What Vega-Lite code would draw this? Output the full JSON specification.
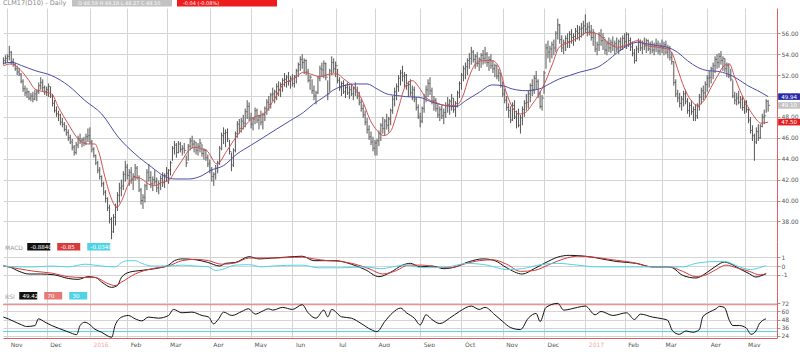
{
"$schema":"https://vega.github.io/schema/vega-lite/v6.json",
"background":"white",
"padding":{"left":1,"top":0,"right":0,"bottom":0},
"config":{"view":{"stroke":null},"axis":{"labelFont":"DejaVu Sans","labelFontSize":6,"labelColor":"#555","gridColor":"#d4d4d4","gridWidth":1,"title":null,"ticks":false,"domain":false,"labelOverlap":false,"labelFlush":false,"labelBound":false,"tickCount":100},"legend":{"labelFont":"DejaVu Sans","titleFont":"DejaVu Sans","gridAlign":"none"}},
"datasets":{
"ohlc":[
{"i":-2,"l":53.0,"h":53.7,"c":53.4},{"i":-1,"l":53.1,"h":53.9,"c":53.6},{"i":0,"l":53.2,"h":54.0,"c":53.8},{"i":1,"l":53.4,"h":54.8,"c":54.2},{"i":2,"l":53.0,"h":54.3,"c":53.3},{"i":3,"l":52.8,"h":53.6,"c":53.0},{"i":4,"l":52.4,"h":53.2,"c":52.6},{"i":5,"l":52.0,"h":52.9,"c":52.3},{"i":6,"l":51.9,"h":52.7,"c":52.1},{"i":7,"l":51.2,"h":52.2,"c":51.4},{"i":8,"l":50.4,"h":51.6,"c":50.7},{"i":9,"l":50.0,"h":51.0,"c":50.3},{"i":10,"l":49.8,"h":50.8,"c":50.4},{"i":11,"l":49.6,"h":50.5,"c":49.8},{"i":12,"l":49.5,"h":50.3,"c":50.0},{"i":13,"l":49.4,"h":50.4,"c":49.7},{"i":14,"l":49.6,"h":50.6,"c":50.2},{"i":15,"l":49.5,"h":50.6,"c":50.4},{"i":16,"l":50.2,"h":51.3,"c":51.0},{"i":17,"l":50.6,"h":51.8,"c":51.3},{"i":18,"l":50.4,"h":51.6,"c":50.8},{"i":19,"l":50.1,"h":51.0,"c":50.4},
{"i":20,"l":50.0,"h":50.9,"c":50.6},{"i":21,"l":49.9,"h":51.2,"c":50.9},{"i":22,"l":49.8,"h":50.9,"c":50.0},{"i":23,"l":49.0,"h":50.2,"c":49.3},{"i":24,"l":48.4,"h":49.6,"c":48.6},{"i":25,"l":48.0,"h":49.0,"c":48.3},{"i":26,"l":47.6,"h":48.6,"c":48.2},{"i":27,"l":47.2,"h":48.3,"c":47.5},{"i":28,"l":47.0,"h":47.9,"c":47.3},{"i":29,"l":46.6,"h":47.5,"c":46.8},{"i":30,"l":46.2,"h":47.2,"c":46.5},{"i":31,"l":45.7,"h":46.8,"c":46.0},{"i":32,"l":45.4,"h":46.3,"c":45.6},{"i":33,"l":44.8,"h":45.9,"c":45.1},{"i":34,"l":44.3,"h":45.3,"c":44.6},{"i":35,"l":44.4,"h":45.6,"c":45.3},{"i":36,"l":45.0,"h":46.2,"c":45.9},{"i":37,"l":45.4,"h":46.4,"c":45.7},{"i":38,"l":45.1,"h":46.0,"c":45.8},{"i":39,"l":45.2,"h":46.1,"c":45.5},
{"i":40,"l":45.3,"h":46.4,"c":46.1},{"i":41,"l":45.6,"h":46.9,"c":46.2},{"i":42,"l":45.4,"h":47.0,"c":45.6},{"i":43,"l":44.6,"h":45.8,"c":44.9},{"i":44,"l":44.1,"h":45.1,"c":44.3},{"i":45,"l":43.4,"h":44.4,"c":43.6},{"i":46,"l":42.6,"h":43.8,"c":42.9},{"i":47,"l":42.0,"h":43.2,"c":42.3},{"i":48,"l":41.3,"h":42.4,"c":41.6},{"i":49,"l":40.5,"h":41.8,"c":40.8},{"i":50,"l":39.8,"h":41.0,"c":40.2},{"i":51,"l":39.0,"h":40.3,"c":39.3},{"i":52,"l":37.8,"h":39.6,"c":38.2},{"i":53,"l":36.3,"h":38.4,"c":37.0},{"i":54,"l":36.9,"h":38.7,"c":38.4},{"i":55,"l":37.6,"h":39.7,"c":39.4},{"i":56,"l":39.0,"h":40.8,"c":40.5},{"i":57,"l":39.8,"h":41.7,"c":41.2},{"i":58,"l":40.4,"h":42.0,"c":41.4},{"i":59,"l":41.0,"h":42.8,"c":42.5},
{"i":60,"l":41.8,"h":43.8,"c":43.2},{"i":61,"l":42.0,"h":43.5,"c":42.4},{"i":62,"l":41.4,"h":43.0,"c":42.7},{"i":63,"l":41.6,"h":43.2,"c":42.0},{"i":64,"l":41.0,"h":42.6,"c":42.3},{"i":65,"l":41.9,"h":43.5,"c":43.1},{"i":66,"l":42.0,"h":43.3,"c":42.2},{"i":67,"l":40.8,"h":42.4,"c":41.0},{"i":68,"l":39.6,"h":41.2,"c":40.0},{"i":69,"l":39.2,"h":40.6,"c":40.3},{"i":70,"l":39.8,"h":41.6,"c":41.4},{"i":71,"l":41.0,"h":43.0,"c":42.7},{"i":72,"l":41.8,"h":43.5,"c":42.2},{"i":73,"l":41.2,"h":42.8,"c":41.6},{"i":74,"l":40.9,"h":42.3,"c":42.0},{"i":75,"l":41.5,"h":42.9,"c":41.8},{"i":76,"l":40.8,"h":42.2,"c":41.2},{"i":77,"l":40.6,"h":41.9,"c":41.6},{"i":78,"l":41.0,"h":42.4,"c":42.1},{"i":79,"l":41.3,"h":42.7,"c":41.7},
{"i":80,"l":41.2,"h":42.6,"c":42.4},{"i":81,"l":41.8,"h":43.2,"c":42.6},{"i":82,"l":41.6,"h":43.0,"c":42.9},{"i":83,"l":42.4,"h":43.8,"c":43.6},{"i":84,"l":43.8,"h":45.2,"c":45.0},{"i":85,"l":44.4,"h":45.7,"c":45.3},{"i":86,"l":44.1,"h":45.5,"c":44.6},{"i":87,"l":44.5,"h":45.7,"c":45.4},{"i":88,"l":44.6,"h":45.6,"c":44.9},{"i":89,"l":44.3,"h":45.3,"c":45.0},{"i":90,"l":44.5,"h":45.5,"c":44.8},{"i":91,"l":43.2,"h":44.3,"c":43.6},{"i":92,"l":43.8,"h":45.4,"c":45.2},{"i":93,"l":44.8,"h":46.0,"c":45.7},{"i":94,"l":45.0,"h":46.2,"c":45.4},{"i":95,"l":44.6,"h":45.8,"c":45.6},{"i":96,"l":44.4,"h":45.6,"c":44.8},{"i":97,"l":44.3,"h":45.5,"c":45.2},{"i":98,"l":44.6,"h":45.9,"c":45.5},{"i":99,"l":44.2,"h":45.4,"c":44.5},
{"i":100,"l":43.9,"h":45.0,"c":44.8},{"i":101,"l":43.8,"h":44.9,"c":44.1},{"i":102,"l":43.2,"h":44.4,"c":43.5},{"i":103,"l":42.6,"h":43.9,"c":42.9},{"i":104,"l":41.8,"h":43.2,"c":42.3},{"i":105,"l":41.4,"h":42.7,"c":42.5},{"i":106,"l":42.0,"h":43.4,"c":43.1},{"i":107,"l":42.6,"h":43.8,"c":43.6},{"i":108,"l":43.4,"h":45.2,"c":45.0},{"i":109,"l":44.8,"h":46.5,"c":46.2},{"i":110,"l":45.4,"h":47.0,"c":46.4},{"i":111,"l":45.1,"h":46.8,"c":46.5},{"i":112,"l":45.6,"h":46.9,"c":45.9},{"i":113,"l":44.4,"h":45.8,"c":44.7},{"i":114,"l":42.8,"h":44.6,"c":43.4},{"i":115,"l":43.2,"h":45.0,"c":44.8},{"i":116,"l":44.6,"h":46.6,"c":46.4},{"i":117,"l":46.0,"h":47.6,"c":47.3},{"i":118,"l":46.4,"h":47.8,"c":46.9},{"i":119,"l":46.5,"h":47.9,"c":47.6},
{"i":120,"l":46.8,"h":48.2,"c":47.4},{"i":121,"l":47.0,"h":48.8,"c":48.5},{"i":122,"l":47.8,"h":49.6,"c":49.0},{"i":123,"l":47.6,"h":49.4,"c":47.9},{"i":124,"l":46.9,"h":48.4,"c":47.3},{"i":125,"l":46.7,"h":48.0,"c":47.8},{"i":126,"l":47.3,"h":48.9,"c":48.6},{"i":127,"l":47.4,"h":48.8,"c":47.7},{"i":128,"l":46.8,"h":48.2,"c":48.0},{"i":129,"l":47.2,"h":48.6,"c":47.5},{"i":130,"l":46.8,"h":48.4,"c":48.2},{"i":131,"l":47.6,"h":49.0,"c":48.8},{"i":132,"l":48.2,"h":49.7,"c":49.4},{"i":133,"l":48.6,"h":50.0,"c":49.2},{"i":134,"l":48.8,"h":50.3,"c":50.1},{"i":135,"l":49.5,"h":50.8,"c":50.2},{"i":136,"l":49.3,"h":50.6,"c":50.4},{"i":137,"l":49.6,"h":51.2,"c":50.9},{"i":138,"l":50.0,"h":51.4,"c":50.6},{"i":139,"l":49.9,"h":51.3,"c":51.1},
{"i":140,"l":50.4,"h":51.7,"c":51.5},{"i":141,"l":50.9,"h":52.2,"c":51.6},{"i":142,"l":50.8,"h":52.0,"c":51.8},{"i":143,"l":51.0,"h":52.3,"c":51.4},{"i":144,"l":50.7,"h":51.9,"c":51.7},{"i":145,"l":50.9,"h":52.1,"c":51.2},{"i":146,"l":50.8,"h":52.0,"c":51.9},{"i":147,"l":51.2,"h":52.6,"c":52.4},{"i":148,"l":51.8,"h":53.2,"c":53.0},{"i":149,"l":52.4,"h":53.8,"c":53.5},{"i":150,"l":52.6,"h":54.0,"c":53.2},{"i":151,"l":52.1,"h":53.6,"c":53.4},{"i":152,"l":52.0,"h":53.5,"c":52.3},{"i":153,"l":51.3,"h":52.6,"c":51.5},{"i":154,"l":50.6,"h":52.0,"c":51.8},{"i":155,"l":50.2,"h":51.6,"c":50.5},{"i":156,"l":49.6,"h":51.0,"c":50.0},{"i":157,"l":49.2,"h":50.5,"c":50.3},{"i":158,"l":50.2,"h":51.9,"c":51.7},{"i":159,"l":51.4,"h":52.9,"c":52.6},
{"i":160,"l":51.8,"h":53.2,"c":52.5},{"i":161,"l":51.7,"h":53.4,"c":53.1},{"i":162,"l":51.5,"h":53.2,"c":51.8},{"i":163,"l":49.6,"h":51.5,"c":50.2},{"i":164,"l":50.4,"h":52.6,"c":52.4},{"i":165,"l":52.0,"h":53.8,"c":53.2},{"i":166,"l":52.2,"h":53.6,"c":52.6},{"i":167,"l":51.8,"h":53.3,"c":52.9},{"i":168,"l":51.2,"h":52.6,"c":51.5},{"i":169,"l":50.5,"h":51.8,"c":50.8},{"i":170,"l":50.0,"h":51.4,"c":51.2},{"i":171,"l":50.2,"h":51.5,"c":50.4},{"i":172,"l":49.8,"h":51.1,"c":50.8},{"i":173,"l":50.1,"h":51.3,"c":50.3},{"i":174,"l":49.7,"h":51.0,"c":50.6},{"i":175,"l":50.0,"h":51.2,"c":50.2},{"i":176,"l":49.6,"h":50.9,"c":50.7},{"i":177,"l":50.0,"h":51.3,"c":50.4},{"i":178,"l":49.7,"h":50.9,"c":50.0},{"i":179,"l":49.1,"h":50.4,"c":49.4},
{"i":180,"l":48.5,"h":49.7,"c":48.8},{"i":181,"l":47.9,"h":49.2,"c":48.2},{"i":182,"l":47.2,"h":48.6,"c":47.5},{"i":183,"l":46.4,"h":47.9,"c":46.8},{"i":184,"l":45.8,"h":47.2,"c":46.1},{"i":185,"l":45.3,"h":46.6,"c":45.6},{"i":186,"l":44.7,"h":46.1,"c":45.0},{"i":187,"l":44.3,"h":45.8,"c":45.5},{"i":188,"l":44.3,"h":45.9,"c":45.7},{"i":189,"l":45.2,"h":46.7,"c":46.4},{"i":190,"l":45.7,"h":47.4,"c":47.2},{"i":191,"l":46.4,"h":48.0,"c":46.9},{"i":192,"l":46.2,"h":47.8,"c":47.6},{"i":193,"l":46.8,"h":48.3,"c":47.2},{"i":194,"l":46.5,"h":48.0,"c":47.8},{"i":195,"l":47.2,"h":48.8,"c":48.6},{"i":196,"l":48.3,"h":50.0,"c":49.7},{"i":197,"l":49.0,"h":50.8,"c":50.4},{"i":198,"l":49.6,"h":51.2,"c":50.9},{"i":199,"l":50.4,"h":52.0,"c":51.7},
{"i":200,"l":51.0,"h":52.5,"c":52.2},{"i":201,"l":51.4,"h":52.9,"c":51.9},{"i":202,"l":50.8,"h":52.3,"c":52.0},{"i":203,"l":50.6,"h":52.1,"c":51.0},{"i":204,"l":49.9,"h":51.4,"c":51.1},{"i":205,"l":50.0,"h":51.6,"c":50.3},{"i":206,"l":49.6,"h":51.0,"c":50.6},{"i":207,"l":49.4,"h":50.9,"c":49.7},{"i":208,"l":48.6,"h":49.9,"c":48.9},{"i":209,"l":47.8,"h":49.2,"c":48.0},{"i":210,"l":47.0,"h":48.4,"c":47.6},{"i":211,"l":47.4,"h":49.0,"c":48.8},{"i":212,"l":48.4,"h":50.2,"c":49.9},{"i":213,"l":49.4,"h":51.0,"c":50.6},{"i":214,"l":49.9,"h":51.6,"c":51.2},{"i":215,"l":50.1,"h":51.8,"c":50.5},{"i":216,"l":49.2,"h":50.8,"c":49.5},{"i":217,"l":48.6,"h":50.0,"c":49.6},{"i":218,"l":48.5,"h":49.8,"c":48.8},{"i":219,"l":47.9,"h":49.2,"c":48.2},
{"i":220,"l":47.6,"h":49.0,"c":48.7},{"i":221,"l":47.8,"h":49.1,"c":48.1},{"i":222,"l":47.3,"h":48.8,"c":48.4},{"i":223,"l":47.9,"h":49.4,"c":49.1},{"i":224,"l":48.4,"h":49.9,"c":49.2},{"i":225,"l":48.2,"h":49.7,"c":49.5},{"i":226,"l":48.6,"h":50.2,"c":49.8},{"i":227,"l":48.4,"h":49.8,"c":48.7},{"i":228,"l":48.0,"h":49.5,"c":49.3},{"i":229,"l":48.9,"h":50.5,"c":50.3},{"i":230,"l":49.8,"h":51.4,"c":51.2},{"i":231,"l":50.6,"h":52.2,"c":52.0},{"i":232,"l":51.4,"h":52.9,"c":52.6},{"i":233,"l":51.6,"h":53.2,"c":52.8},{"i":234,"l":52.0,"h":53.6,"c":53.4},{"i":235,"l":52.6,"h":54.1,"c":53.6},{"i":236,"l":53.0,"h":54.7,"c":54.2},{"i":237,"l":53.2,"h":54.4,"c":53.5},{"i":238,"l":52.6,"h":54.0,"c":53.8},{"i":239,"l":52.8,"h":54.2,"c":53.1},
{"i":240,"l":52.4,"h":53.7,"c":53.5},{"i":241,"l":52.7,"h":54.1,"c":53.9},{"i":242,"l":53.0,"h":54.4,"c":53.6},{"i":243,"l":53.1,"h":54.7,"c":54.0},{"i":244,"l":52.8,"h":54.2,"c":53.2},{"i":245,"l":52.4,"h":53.8,"c":53.5},{"i":246,"l":52.6,"h":54.0,"c":52.9},{"i":247,"l":52.2,"h":53.4,"c":52.6},{"i":248,"l":51.8,"h":53.1,"c":52.9},{"i":249,"l":51.6,"h":53.0,"c":51.9},{"i":250,"l":51.4,"h":52.6,"c":52.2},{"i":251,"l":50.8,"h":52.2,"c":51.0},{"i":252,"l":49.9,"h":51.4,"c":50.2},{"i":253,"l":49.3,"h":50.7,"c":49.6},{"i":254,"l":48.6,"h":50.0,"c":48.9},{"i":255,"l":47.9,"h":49.3,"c":48.6},{"i":256,"l":47.4,"h":49.0,"c":47.7},{"i":257,"l":47.6,"h":49.4,"c":49.1},{"i":258,"l":47.8,"h":49.6,"c":48.0},{"i":259,"l":46.9,"h":48.6,"c":48.3},
{"i":260,"l":47.0,"h":48.8,"c":47.2},{"i":261,"l":46.4,"h":48.2,"c":47.9},{"i":262,"l":47.2,"h":49.0,"c":48.7},{"i":263,"l":48.0,"h":49.6,"c":49.3},{"i":264,"l":48.6,"h":50.2,"c":49.4},{"i":265,"l":48.8,"h":50.5,"c":50.2},{"i":266,"l":49.4,"h":51.2,"c":51.0},{"i":267,"l":50.0,"h":51.6,"c":50.6},{"i":268,"l":50.2,"h":52.0,"c":51.7},{"i":269,"l":50.6,"h":52.4,"c":51.4},{"i":270,"l":49.8,"h":51.6,"c":50.2},{"i":271,"l":48.8,"h":50.5,"c":49.0},{"i":272,"l":48.6,"h":50.1,"c":49.8},{"i":273,"l":50.2,"h":52.4,"c":52.2},{"i":274,"l":52.6,"h":55.0,"c":54.6},{"i":275,"l":53.6,"h":55.3,"c":54.2},{"i":276,"l":53.2,"h":54.8,"c":54.5},{"i":277,"l":53.6,"h":55.2,"c":54.9},{"i":278,"l":53.9,"h":55.4,"c":54.6},{"i":279,"l":54.2,"h":56.2,"c":56.0},
{"i":280,"l":55.4,"h":57.4,"c":56.8},{"i":281,"l":55.0,"h":56.9,"c":55.4},{"i":282,"l":54.2,"h":55.8,"c":54.6},{"i":283,"l":54.0,"h":55.4,"c":55.1},{"i":284,"l":54.3,"h":55.8,"c":55.5},{"i":285,"l":54.6,"h":56.0,"c":55.2},{"i":286,"l":54.6,"h":56.2,"c":55.9},{"i":287,"l":55.0,"h":56.4,"c":55.6},{"i":288,"l":54.8,"h":56.0,"c":55.7},{"i":289,"l":55.2,"h":56.5,"c":56.2},{"i":290,"l":55.4,"h":56.8,"c":56.0},{"i":291,"l":55.3,"h":56.7,"c":56.4},{"i":292,"l":55.6,"h":57.0,"c":56.5},{"i":293,"l":55.8,"h":57.2,"c":56.7},{"i":294,"l":56.0,"h":57.8,"c":56.4},{"i":295,"l":55.7,"h":57.0,"c":56.6},{"i":296,"l":55.8,"h":57.1,"c":56.2},{"i":297,"l":55.3,"h":56.8,"c":55.6},{"i":298,"l":54.8,"h":56.4,"c":56.1},{"i":299,"l":54.2,"h":56.0,"c":54.5},
{"i":300,"l":53.9,"h":55.2,"c":54.9},{"i":301,"l":54.3,"h":56.1,"c":55.8},{"i":302,"l":54.8,"h":56.4,"c":55.3},{"i":303,"l":54.4,"h":56.0,"c":55.6},{"i":304,"l":54.0,"h":55.5,"c":54.4},{"i":305,"l":53.9,"h":55.3,"c":55.0},{"i":306,"l":54.2,"h":55.6,"c":54.6},{"i":307,"l":54.1,"h":55.4,"c":55.1},{"i":308,"l":54.3,"h":55.7,"c":54.8},{"i":309,"l":54.0,"h":55.3,"c":55.0},{"i":310,"l":54.2,"h":55.6,"c":54.5},{"i":311,"l":54.0,"h":55.4,"c":55.2},{"i":312,"l":54.3,"h":55.6,"c":54.7},{"i":313,"l":54.4,"h":55.8,"c":55.5},{"i":314,"l":54.6,"h":56.0,"c":55.2},{"i":315,"l":54.5,"h":56.1,"c":55.9},{"i":316,"l":54.7,"h":56.0,"c":55.3},{"i":317,"l":54.3,"h":55.6,"c":54.7},{"i":318,"l":53.8,"h":55.2,"c":54.1},{"i":319,"l":53.1,"h":54.5,"c":53.4},
{"i":320,"l":53.3,"h":54.8,"c":54.5},{"i":321,"l":54.1,"h":55.5,"c":55.2},{"i":322,"l":54.3,"h":55.4,"c":54.6},{"i":323,"l":54.0,"h":55.3,"c":55.0},{"i":324,"l":54.4,"h":55.6,"c":54.8},{"i":325,"l":54.1,"h":55.5,"c":55.3},{"i":326,"l":54.3,"h":55.4,"c":54.5},{"i":327,"l":54.0,"h":55.2,"c":54.9},{"i":328,"l":54.1,"h":55.3,"c":54.4},{"i":329,"l":53.9,"h":55.1,"c":54.8},{"i":330,"l":54.2,"h":55.5,"c":55.0},{"i":331,"l":54.0,"h":55.3,"c":54.3},{"i":332,"l":53.9,"h":55.1,"c":54.8},{"i":333,"l":54.1,"h":55.4,"c":54.6},{"i":334,"l":53.9,"h":55.2,"c":54.9},{"i":335,"l":54.0,"h":55.3,"c":54.2},{"i":336,"l":53.6,"h":54.9,"c":54.5},{"i":337,"l":53.4,"h":54.8,"c":53.7},{"i":338,"l":53.0,"h":54.2,"c":53.3},{"i":339,"l":51.0,"h":53.3,"c":51.3},
{"i":340,"l":49.9,"h":51.6,"c":50.2},{"i":341,"l":49.4,"h":50.6,"c":49.8},{"i":342,"l":48.9,"h":50.3,"c":49.3},{"i":343,"l":48.6,"h":50.0,"c":49.7},{"i":344,"l":49.0,"h":50.5,"c":50.2},{"i":345,"l":49.2,"h":50.6,"c":49.5},{"i":346,"l":48.3,"h":49.8,"c":48.6},{"i":347,"l":48.0,"h":49.4,"c":49.1},{"i":348,"l":48.2,"h":49.6,"c":48.5},{"i":349,"l":47.6,"h":49.0,"c":48.7},{"i":350,"l":47.6,"h":49.2,"c":48.1},{"i":351,"l":47.8,"h":49.3,"c":49.0},{"i":352,"l":48.6,"h":50.2,"c":49.9},{"i":353,"l":49.2,"h":50.8,"c":50.5},{"i":354,"l":49.6,"h":51.0,"c":50.3},{"i":355,"l":49.8,"h":51.4,"c":51.1},{"i":356,"l":50.4,"h":52.0,"c":51.7},{"i":357,"l":50.8,"h":52.4,"c":51.8},{"i":358,"l":51.2,"h":52.8,"c":52.6},{"i":359,"l":51.6,"h":53.2,"c":52.9},
{"i":360,"l":52.2,"h":53.8,"c":53.5},{"i":361,"l":52.6,"h":54.0,"c":53.2},{"i":362,"l":52.7,"h":54.1,"c":53.8},{"i":363,"l":53.0,"h":54.3,"c":53.4},{"i":364,"l":52.4,"h":53.8,"c":53.6},{"i":365,"l":52.3,"h":53.6,"c":52.6},{"i":366,"l":51.8,"h":53.2,"c":52.9},{"i":367,"l":51.7,"h":53.1,"c":51.9},{"i":368,"l":51.4,"h":52.6,"c":51.6},{"i":369,"l":49.8,"h":51.5,"c":50.0},{"i":370,"l":49.2,"h":50.4,"c":49.6},{"i":371,"l":49.1,"h":50.3,"c":49.8},{"i":372,"l":49.2,"h":50.5,"c":49.4},{"i":373,"l":48.8,"h":50.0,"c":49.7},{"i":374,"l":48.6,"h":50.0,"c":48.9},{"i":375,"l":48.3,"h":49.6,"c":49.2},{"i":376,"l":48.4,"h":49.6,"c":48.7},{"i":377,"l":47.4,"h":48.9,"c":47.7},{"i":378,"l":46.4,"h":48.0,"c":46.7},{"i":379,"l":45.7,"h":47.2,"c":46.2},
{"i":380,"l":43.8,"h":46.4,"c":45.6},{"i":381,"l":45.4,"h":47.0,"c":46.6},{"i":382,"l":45.7,"h":47.3,"c":46.0},{"i":383,"l":45.9,"h":47.3,"c":47.1},{"i":384,"l":47.0,"h":48.3,"c":48.0},{"i":385,"l":47.3,"h":48.7,"c":48.1},{"i":386,"l":48.4,"h":49.7,"c":49.5},{"i":387,"l":48.5,"h":49.6,"c":49.1}
],
"ma10":[{"i":-2,"v":52.9},{"i":2,"v":53.07},{"i":7,"v":52.43},{"i":11,"v":51.47},{"i":14,"v":50.67},{"i":17.5,"v":50.45},{"i":22.6,"v":50.19},{"i":26,"v":48.92},{"i":31,"v":47.32},{"i":36,"v":45.89},{"i":41,"v":45.41},{"i":44.6,"v":45.41},{"i":46.3,"v":44.77},{"i":49.7,"v":42.22},{"i":53,"v":40.15},{"i":55.7,"v":39.35},{"i":58.2,"v":39.99},{"i":61.6,"v":41.58},{"i":65,"v":42.22},{"i":68.4,"v":42.06},{"i":71.8,"v":41.58},{"i":75.2,"v":41.42},{"i":78.6,"v":41.74},{"i":82,"v":41.9},{"i":85.4,"v":42.86},{"i":88.8,"v":43.81},{"i":92.2,"v":44.77},{"i":95.6,"v":45.09},{"i":99,"v":44.93},{"i":101.5,"v":44.77},{"i":106.6,"v":43.5},{"i":111.7,"v":44.77},{"i":115.1,"v":45.73},{"i":120.2,"v":47.0},{"i":125.3,"v":47.96},{"i":130.4,"v":48.28},{"i":135.4,"v":49.56},{"i":140.5,"v":51.15},{"i":145.6,"v":51.63},{"i":150.7,"v":52.27},{"i":154.1,"v":52.11},{"i":159.2,"v":51.85},{"i":164.3,"v":52.11},{"i":167.7,"v":52.11},{"i":171.1,"v":51.63},{"i":174.5,"v":51.15},{"i":177.9,"v":50.51},{"i":181.3,"v":49.24},{"i":184.7,"v":47.64},{"i":188.1,"v":46.69},{"i":191.5,"v":46.21},{"i":194.9,"v":46.6},{"i":197.5,"v":47.9},{"i":199.2,"v":49.0},{"i":202.6,"v":50.99},{"i":206,"v":51.47},{"i":209.4,"v":50.83},{"i":212.8,"v":49.88},{"i":217.9,"v":49.4},{"i":223,"v":49.08},{"i":228.1,"v":49.08},{"i":231.5,"v":49.88},{"i":234.8,"v":51.79},{"i":238.2,"v":53.07},{"i":241.6,"v":53.38},{"i":246.7,"v":53.38},{"i":250.1,"v":52.75},{"i":253.5,"v":50.51},{"i":256.9,"v":48.92},{"i":260.3,"v":48.28},{"i":263.7,"v":48.44},{"i":267.1,"v":49.24},{"i":270.5,"v":50.19},{"i":273.9,"v":51.47},{"i":277.3,"v":53.07},{"i":280.7,"v":54.66},{"i":285.8,"v":55.14},{"i":290.9,"v":55.62},{"i":295.1,"v":56.1},{"i":300.2,"v":55.94},{"i":305.3,"v":55.14},{"i":310.4,"v":54.66},{"i":315.5,"v":54.92},{"i":320.6,"v":55.3},{"i":325.7,"v":54.82},{"i":330.8,"v":54.66},{"i":335.8,"v":54.5},{"i":338.4,"v":54.0},{"i":340.9,"v":52.6},{"i":344.3,"v":50.8},{"i":347.7,"v":49.6},{"i":351.1,"v":49.1},{"i":354.5,"v":49.6},{"i":357.9,"v":50.8},{"i":361.3,"v":51.95},{"i":364.7,"v":52.91},{"i":367.3,"v":53.07},{"i":369.8,"v":51.9},{"i":373.2,"v":50.3},{"i":376.6,"v":49.0},{"i":380,"v":48.0},{"i":383.4,"v":47.4},{"i":387,"v":47.5}],
"ma40":[{"i":-2,"v":53.13},{"i":2.2,"v":53.22},{"i":7.3,"v":52.91},{"i":14.1,"v":52.43},{"i":22.6,"v":51.95},{"i":31.1,"v":50.99},{"i":39.5,"v":49.56},{"i":48,"v":48.28},{"i":56.5,"v":46.05},{"i":65,"v":44.45},{"i":73.5,"v":43.18},{"i":80.3,"v":42.28},{"i":85.4,"v":42.06},{"i":92.2,"v":42.06},{"i":99,"v":42.38},{"i":103.2,"v":42.86},{"i":110,"v":43.34},{"i":116.8,"v":44.45},{"i":123.6,"v":45.25},{"i":130.4,"v":46.05},{"i":137.1,"v":46.85},{"i":143.9,"v":47.64},{"i":150.7,"v":48.44},{"i":155.8,"v":49.24},{"i":160.9,"v":49.88},{"i":166,"v":50.58},{"i":171.1,"v":50.99},{"i":177.9,"v":51.15},{"i":183,"v":51.15},{"i":188.1,"v":50.67},{"i":193.2,"v":50.19},{"i":198.3,"v":50.04},{"i":202.6,"v":49.94},{"i":209.4,"v":49.88},{"i":216.2,"v":49.4},{"i":223,"v":49.08},{"i":228.1,"v":48.98},{"i":233.2,"v":49.56},{"i":240,"v":50.35},{"i":246.7,"v":51.06},{"i":251.8,"v":50.99},{"i":256.9,"v":50.67},{"i":263.7,"v":50.51},{"i":270.5,"v":50.67},{"i":275.6,"v":51.15},{"i":280.7,"v":51.63},{"i":285.8,"v":51.95},{"i":290.9,"v":52.27},{"i":297.7,"v":52.59},{"i":300.2,"v":52.75},{"i":305.3,"v":53.38},{"i":310.4,"v":54.18},{"i":315.5,"v":54.82},{"i":320.6,"v":55.14},{"i":325.7,"v":54.98},{"i":330.8,"v":54.82},{"i":335.8,"v":54.66},{"i":340.9,"v":54.18},{"i":346,"v":53.38},{"i":351.1,"v":52.75},{"i":356.2,"v":52.43},{"i":361.3,"v":52.36},{"i":366.4,"v":52.11},{"i":371.5,"v":51.63},{"i":376.6,"v":50.99},{"i":381.7,"v":50.51},{"i":387,"v":49.94}],
"macd":[
{"s":"MACD","i":-2,"v":0.0},{"s":"MACD","i":1,"v":-0.1},{"s":"MACD","i":6,"v":-0.6},{"s":"MACD","i":11,"v":-0.9},{"s":"MACD","i":17,"v":-0.9},{"s":"MACD","i":24,"v":-1.0},{"s":"MACD","i":31,"v":-1.4},{"s":"MACD","i":36,"v":-1.5},{"s":"MACD","i":41,"v":-1.2},{"s":"MACD","i":45,"v":-1.3},{"s":"MACD","i":48,"v":-1.8},{"s":"MACD","i":53,"v":-2.4},{"s":"MACD","i":56,"v":-2.2},{"s":"MACD","i":58,"v":-1.3},{"s":"MACD","i":62,"v":-0.7},{"s":"MACD","i":68,"v":-0.5},{"s":"MACD","i":75,"v":-0.3},{"s":"MACD","i":82,"v":0.1},{"s":"MACD","i":85,"v":0.6},{"s":"MACD","i":89,"v":0.8},{"s":"MACD","i":96,"v":0.7},{"s":"MACD","i":102,"v":0.4},{"s":"MACD","i":108,"v":0.0},{"s":"MACD","i":111,"v":0.3},{"s":"MACD","i":116,"v":0.4},{"s":"MACD","i":123,"v":1.05},{"s":"MACD","i":128,"v":0.8},{"s":"MACD","i":135,"v":0.9},{"s":"MACD","i":142,"v":1.0},{"s":"MACD","i":150,"v":1.1},{"s":"MACD","i":156,"v":0.6},{"s":"MACD","i":162,"v":0.6},{"s":"MACD","i":167,"v":0.6},{"s":"MACD","i":175,"v":0.2},{"s":"MACD","i":182,"v":-0.4},{"s":"MACD","i":189,"v":-1.2},{"s":"MACD","i":195,"v":-0.7},{"s":"MACD","i":201,"v":0.1},{"s":"MACD","i":205,"v":0.3},{"s":"MACD","i":210,"v":-0.1},{"s":"MACD","i":216,"v":0.0},{"s":"MACD","i":222,"v":-0.3},{"s":"MACD","i":228,"v":-0.1},{"s":"MACD","i":235,"v":0.5},{"s":"MACD","i":242,"v":0.8},{"s":"MACD","i":248,"v":0.6},{"s":"MACD","i":254,"v":-0.2},{"s":"MACD","i":262,"v":-0.9},{"s":"MACD","i":268,"v":-0.3},{"s":"MACD","i":274,"v":0.4},{"s":"MACD","i":280,"v":1.0},{"s":"MACD","i":286,"v":1.2},{"s":"MACD","i":294,"v":1.1},{"s":"MACD","i":300,"v":0.9},{"s":"MACD","i":310,"v":0.5},{"s":"MACD","i":320,"v":0.3},{"s":"MACD","i":328,"v":-0.1},{"s":"MACD","i":336.7,"v":-0.1},{"s":"MACD","i":338.4,"v":-0.2},{"s":"MACD","i":343.5,"v":-1.05},{"s":"MACD","i":350.3,"v":-1.35},{"s":"MACD","i":355.4,"v":-0.8},{"s":"MACD","i":360.5,"v":0.0},{"s":"MACD","i":364.7,"v":0.45},{"s":"MACD","i":367.3,"v":0.3},{"s":"MACD","i":372.4,"v":-0.3},{"s":"MACD","i":377.4,"v":-0.87},{"s":"MACD","i":380.8,"v":-1.24},{"s":"MACD","i":383.4,"v":-1.1},{"s":"MACD","i":386,"v":-0.87},
{"s":"Signal","i":-2,"v":0.0},{"s":"Signal","i":5.6,"v":-0.3},{"s":"Signal","i":14,"v":-0.6},{"s":"Signal","i":22.6,"v":-0.8},{"s":"Signal","i":31,"v":-1.2},{"s":"Signal","i":39.5,"v":-1.3},{"s":"Signal","i":44.6,"v":-1.3},{"s":"Signal","i":51.4,"v":-2.0},{"s":"Signal","i":54.8,"v":-2.2},{"s":"Signal","i":58.2,"v":-1.8},{"s":"Signal","i":65,"v":-0.9},{"s":"Signal","i":73.5,"v":-0.3},{"s":"Signal","i":82,"v":0.0},{"s":"Signal","i":88.8,"v":0.6},{"s":"Signal","i":95.6,"v":0.75},{"s":"Signal","i":102.4,"v":0.6},{"s":"Signal","i":109,"v":0.2},{"s":"Signal","i":116,"v":0.35},{"s":"Signal","i":122.8,"v":0.9},{"s":"Signal","i":129.6,"v":0.9},{"s":"Signal","i":135,"v":0.9},{"s":"Signal","i":142,"v":0.95},{"s":"Signal","i":150,"v":1.0},{"s":"Signal","i":156,"v":0.8},{"s":"Signal","i":163,"v":0.6},{"s":"Signal","i":170,"v":0.5},{"s":"Signal","i":177,"v":0.2},{"s":"Signal","i":184,"v":-0.3},{"s":"Signal","i":191,"v":-0.9},{"s":"Signal","i":198,"v":-0.5},{"s":"Signal","i":204,"v":0.1},{"s":"Signal","i":211,"v":0.1},{"s":"Signal","i":218,"v":-0.1},{"s":"Signal","i":225,"v":-0.2},{"s":"Signal","i":232,"v":0.2},{"s":"Signal","i":240,"v":0.6},{"s":"Signal","i":247,"v":0.7},{"s":"Signal","i":254,"v":0.2},{"s":"Signal","i":261,"v":-0.6},{"s":"Signal","i":268,"v":-0.5},{"s":"Signal","i":276,"v":0.2},{"s":"Signal","i":283,"v":0.8},{"s":"Signal","i":290,"v":1.1},{"s":"Signal","i":298,"v":1.0},{"s":"Signal","i":308,"v":0.7},{"s":"Signal","i":318,"v":0.4},{"s":"Signal","i":328,"v":-0.1},{"s":"Signal","i":336.7,"v":-0.1},{"s":"Signal","i":343.5,"v":-0.6},{"s":"Signal","i":350.3,"v":-1.2},{"s":"Signal","i":355.4,"v":-1.0},{"s":"Signal","i":360.5,"v":-0.4},{"s":"Signal","i":365.5,"v":0.1},{"s":"Signal","i":371,"v":-0.2},{"s":"Signal","i":377.4,"v":-0.6},{"s":"Signal","i":382.8,"v":-1.0},{"s":"Signal","i":386,"v":-0.85},
{"s":"Hist","i":-2,"v":0.0},{"s":"Hist","i":5.6,"v":-0.1},{"s":"Hist","i":14,"v":-0.1},{"s":"Hist","i":22.6,"v":0.0},{"s":"Hist","i":31,"v":-0.1},{"s":"Hist","i":39.5,"v":0.2},{"s":"Hist","i":48,"v":0.0},{"s":"Hist","i":54.8,"v":-0.1},{"s":"Hist","i":58.2,"v":0.4},{"s":"Hist","i":61.6,"v":0.6},{"s":"Hist","i":65,"v":0.6},{"s":"Hist","i":68.4,"v":0.3},{"s":"Hist","i":73.5,"v":0.0},{"s":"Hist","i":82,"v":0.0},{"s":"Hist","i":88.8,"v":0.1},{"s":"Hist","i":95.6,"v":0.0},{"s":"Hist","i":102.4,"v":-0.1},{"s":"Hist","i":105.8,"v":-0.5},{"s":"Hist","i":109,"v":-0.4},{"s":"Hist","i":116,"v":0.1},{"s":"Hist","i":122.8,"v":0.15},{"s":"Hist","i":129.6,"v":-0.1},{"s":"Hist","i":135,"v":0.0},{"s":"Hist","i":150,"v":0.1},{"s":"Hist","i":158,"v":-0.2},{"s":"Hist","i":170,"v":-0.2},{"s":"Hist","i":182,"v":-0.1},{"s":"Hist","i":190,"v":-0.3},{"s":"Hist","i":196,"v":-0.1},{"s":"Hist","i":202,"v":0.1},{"s":"Hist","i":212,"v":-0.2},{"s":"Hist","i":224,"v":-0.1},{"s":"Hist","i":234,"v":0.3},{"s":"Hist","i":244,"v":0.1},{"s":"Hist","i":254,"v":-0.4},{"s":"Hist","i":262,"v":-0.3},{"s":"Hist","i":270,"v":0.1},{"s":"Hist","i":280,"v":0.3},{"s":"Hist","i":290,"v":0.1},{"s":"Hist","i":300,"v":-0.1},{"s":"Hist","i":315,"v":-0.1},{"s":"Hist","i":328,"v":-0.1},{"s":"Hist","i":338.4,"v":-0.1},{"s":"Hist","i":343.5,"v":-0.1},{"s":"Hist","i":350.3,"v":0.3},{"s":"Hist","i":360.5,"v":0.5},{"s":"Hist","i":365,"v":0.5},{"s":"Hist","i":372.4,"v":-0.1},{"s":"Hist","i":378,"v":-0.4},{"s":"Hist","i":382.5,"v":-0.2},{"s":"Hist","i":386,"v":0.05}
],
"rsi":[{"i":-2,"v":51.6},{"i":0.5,"v":49},{"i":3,"v":45.6},{"i":7.3,"v":40},{"i":9.8,"v":37.6},{"i":14.1,"v":39},{"i":15.8,"v":49},{"i":19.2,"v":44},{"i":22.6,"v":39},{"i":26,"v":35},{"i":31.1,"v":29.4},{"i":35.3,"v":25.5},{"i":37,"v":39},{"i":39.5,"v":44},{"i":41.2,"v":42},{"i":44.6,"v":33.5},{"i":48,"v":29},{"i":51.4,"v":23},{"i":53.1,"v":21.6},{"i":54.8,"v":39},{"i":58.2,"v":51.6},{"i":61.6,"v":54},{"i":65,"v":49},{"i":68.4,"v":46},{"i":71.8,"v":51.6},{"i":76.9,"v":50},{"i":82,"v":54},{"i":84.5,"v":63},{"i":88.8,"v":58},{"i":93.9,"v":59},{"i":99,"v":54},{"i":102.4,"v":51.6},{"i":104.9,"v":41.5},{"i":107.5,"v":49},{"i":110,"v":59},{"i":114.2,"v":54},{"i":119.3,"v":60},{"i":122.7,"v":64},{"i":126.1,"v":56},{"i":129.5,"v":60},{"i":132.9,"v":64},{"i":135,"v":62},{"i":140,"v":66},{"i":145,"v":63},{"i":150,"v":70},{"i":153,"v":58},{"i":157,"v":50},{"i":161,"v":62},{"i":163,"v":52},{"i":165,"v":63},{"i":170,"v":52},{"i":175,"v":50},{"i":180,"v":42},{"i":185,"v":33},{"i":188,"v":30},{"i":192,"v":45},{"i":196,"v":58},{"i":200,"v":65},{"i":203,"v":58},{"i":207,"v":50},{"i":210,"v":40},{"i":213,"v":55},{"i":216,"v":48},{"i":220,"v":42},{"i":225,"v":50},{"i":230,"v":60},{"i":236,"v":68},{"i":240,"v":63},{"i":243,"v":66},{"i":248,"v":55},{"i":252,"v":45},{"i":256,"v":36},{"i":261,"v":33},{"i":265,"v":50},{"i":269,"v":57},{"i":271,"v":45},{"i":274,"v":66},{"i":280,"v":72},{"i":283,"v":62},{"i":290,"v":66},{"i":294,"v":68},{"i":299,"v":55},{"i":302,"v":60},{"i":308,"v":54},{"i":315,"v":58},{"i":319,"v":48},{"i":322,"v":56},{"i":328.2,"v":51.6},{"i":333.3,"v":49},{"i":335.8,"v":47},{"i":338.4,"v":31},{"i":341.8,"v":26},{"i":345.2,"v":31},{"i":348.6,"v":29},{"i":352,"v":33},{"i":353.7,"v":51.6},{"i":357.1,"v":59},{"i":360.5,"v":64},{"i":362.2,"v":67.5},{"i":364.7,"v":66},{"i":367.3,"v":46.5},{"i":369,"v":39},{"i":372.4,"v":39},{"i":375.8,"v":35.5},{"i":378.3,"v":26},{"i":380.8,"v":31},{"i":382.5,"v":41.5},{"i":385.9,"v":49}],
"lv":[{"k":"70","v":70},{"k":"30","v":30}],
"hdr":[]
},
"spacing":0,
"bounds":"flush",
"resolve":{"scale":{"color":"independent","y":"independent"},"legend":{"color":"independent"}},
"vconcat":[
{"width":774,"height":234,
"layer":[
{"data":{"name":"ohlc"},"mark":{"type":"rule","color":"#555","strokeWidth":1},
"encoding":{"x":{"field":"i","type":"quantitative","scale":{"domain":[-2.2,391.5],"nice":false,"zero":false},"axis":{"values":[0,20,42,61,81,103,124,145,167,187,210,231,252,273,294,314,333,356,375],"labels":false,"grid":true,"tickCount":100,"minExtent":0}},
"y":{"field":"l","type":"quantitative","scale":{"domain":[36.03,58.42],"nice":false,"zero":false},"axis":{"orient":"right","values":[38,40,42,44,46,48,50,52,54,56],"tickCount":100,"format":".2f","grid":true,"ticks":true,"tickSize":3,"tickColor":"#999","domain":true,"domainColor":"#e06060","labelPadding":1}},
"y2":{"field":"h"}}},
{"data":{"name":"ohlc"},"mark":{"type":"tick","orient":"horizontal","size":2,"thickness":1,"color":"#555","xOffset":1},
"encoding":{"x":{"field":"i","type":"quantitative"},"y":{"field":"c","type":"quantitative"}}},
{"data":{"name":"ma40"},"mark":{"type":"line","color":"#4c4ca6","strokeWidth":1,"interpolate":"monotone"},
"encoding":{"x":{"field":"i","type":"quantitative"},"y":{"field":"v","type":"quantitative"}}},
{"data":{"name":"ma10"},"mark":{"type":"line","color":"#d05252","strokeWidth":1,"interpolate":"monotone"},
"encoding":{"x":{"field":"i","type":"quantitative"},"y":{"field":"v","type":"quantitative"}}},
{"data":{"name":"ma40"},"transform":[{"filter":"datum.i > 386"}],"mark":{"type":"point","shape":"M-1,-0.3H1V0.3H-1Z","size":484,"filled":true,"opacity":1,"color":"#2a2aa6","xOffset":21},
"encoding":{"x":{"field":"i","type":"quantitative"},"y":{"field":"v","type":"quantitative"}}},
{"data":{"name":"ohlc"},"transform":[{"filter":"datum.i > 386"}],"mark":{"type":"point","shape":"M-1,-0.3H1V0.3H-1Z","size":484,"filled":true,"opacity":1,"color":"#c4c4c4","xOffset":21},
"encoding":{"x":{"field":"i","type":"quantitative"},"y":{"field":"c","type":"quantitative"}}},
{"data":{"name":"ma10"},"transform":[{"filter":"datum.i > 386"}],"mark":{"type":"point","shape":"M-1,-0.3H1V0.3H-1Z","size":484,"filled":true,"opacity":1,"color":"#e41e1e","xOffset":21},
"encoding":{"x":{"field":"i","type":"quantitative"},"y":{"field":"v","type":"quantitative"}}},
{"data":{"name":"ma40"},"transform":[{"filter":"datum.i > 386"}],"mark":{"type":"text","color":"white","fontSize":5.5,"font":"DejaVu Sans","dx":21,"align":"center","baseline":"middle"},
"encoding":{"x":{"field":"i","type":"quantitative"},"y":{"field":"v","type":"quantitative"},"text":{"field":"v","type":"quantitative","format":".2f"}}},
{"data":{"name":"ohlc"},"transform":[{"filter":"datum.i > 386"}],"mark":{"type":"text","color":"white","fontSize":5.5,"font":"DejaVu Sans","dx":21,"align":"center","baseline":"middle"},
"encoding":{"x":{"field":"i","type":"quantitative"},"y":{"field":"c","type":"quantitative"},"text":{"field":"c","type":"quantitative","format":".2f"}}},
{"data":{"name":"ma10"},"transform":[{"filter":"datum.i > 386"}],"mark":{"type":"text","color":"white","fontSize":5.5,"font":"DejaVu Sans","dx":21,"align":"center","baseline":"middle"},
"encoding":{"x":{"field":"i","type":"quantitative"},"y":{"field":"v","type":"quantitative"},"text":{"field":"v","type":"quantitative","format":".2f"}}},
{"data":{"name":"hdr"},"mark":{"type":"point","filled":true},
"encoding":{"color":{"field":"k","type":"nominal","scale":{"domain":["q","c"],"range":["#c2c2c2","#ee1c1c"]},
"legend":{"orient":"top","direction":"horizontal","columns":2,"title":"CLM17(D10) - Daily","titleOrient":"left","titleAnchor":"start","titleBaseline":"top","titleFontSize":6.5,"titleFontWeight":"normal","titleColor":"#8a8a8a","titlePadding":3,"labelFontSize":5,"labelColor":"#fafafa","symbolType":"M-1,-8H199V8H-1Z","symbolSize":1,"symbolStrokeWidth":0,"symbolOpacity":1,"labelOffset":3,"columnPadding":3,"padding":0,"offset":1,"labelLimit":200,"labelExpr":"datum.label == 'q' ? 'O 48.59  H 49.18  L 48.27  C 49.10' : '-0.04   (-0.08%)'"}}}}
]},
{"width":774,"height":49,
"layer":[
{"data":{"name":"macd"},"mark":{"type":"line","strokeWidth":1,"interpolate":"monotone"},
"encoding":{"x":{"field":"i","type":"quantitative","scale":{"domain":[-2.2,391.5],"nice":false,"zero":false},"axis":{"values":[0,20,42,61,81,103,124,145,167,187,210,231,252,273,294,314,333,356,375],"labels":false,"grid":true,"tickCount":100,"minExtent":0}},
"y":{"field":"v","type":"quantitative","scale":{"domain":[-2.81,2.7],"nice":false,"zero":false},"axis":{"orient":"right","values":[1,0,-1],"tickCount":100,"labelExpr":"datum.value < 0 ? '-' + abs(datum.value) : '' + datum.value","grid":true,"ticks":true,"tickSize":3,"tickColor":"#999","domain":true,"domainColor":"#e06060","labelPadding":1}},
"color":{"field":"s","type":"nominal","sort":["MACD","Signal","Hist"],"scale":{"domain":["MACD","Signal","Hist"],"range":["#111111","#d63a3a","#4fd4e6"]},
"legend":{"orient":"top-left","direction":"horizontal","title":"MACD","titleOrient":"left","titleFontSize":6,"titleFontWeight":"normal","titleColor":"#999","titlePadding":2,"labelFontSize":5.5,"labelColor":"white","symbolType":"M-1,-6H45M-1,-4H45M-1,-2H45M-1,0H45M-1,2H45M-1,4H45M-1,6H45","symbolSize":1,"symbolStrokeWidth":1.3,"labelOffset":0,"padding":0,"offset":2,"columnPadding":1,"labelExpr":"datum.label == 'MACD' ? '-0.8840' : datum.label == 'Signal' ? '-0.85' : '-0.0340'"}}}}
]},
{"width":774,"height":47,
"layer":[
{"data":{"name":"lv"},"mark":{"type":"rule","strokeWidth":1},
"encoding":{"y":{"field":"v","type":"quantitative"},"color":{"field":"k","type":"nominal"}}},
{"data":{"name":"rsi"},"mark":{"type":"line","strokeWidth":1,"interpolate":"monotone"},
"encoding":{"x":{"field":"i","type":"quantitative","scale":{"domain":[-2.2,391.5],"nice":false,"zero":false},"axis":{"values":[0,20,42,61,81,103,124,145,167,187,210,231,252,273,294,314,333,356,375],"tickCount":100,"grid":true,"domain":true,"domainColor":"#e06060","labelAlign":"left","labelOffset":3,"labelPadding":3,"labelColor":{"condition":{"test":"datum.value == 42 || datum.value == 294","value":"#f0a8a8"},"value":"#555"},"labelExpr":"['Nov','Dec','2016','Feb','Mar','Apr','May','Jun','Jul','Aug','Sep','Oct','Nov','Dec','2017','Feb','Mar','Apr','May'][indexof([0,20,42,61,81,103,124,145,167,187,210,231,252,273,294,314,333,356,375], datum.value)]"}},
"y":{"field":"v","type":"quantitative","scale":{"domain":[20.5,90.4],"nice":false,"zero":false},"axis":{"orient":"right","values":[24,36,48,60,72],"tickCount":100,"format":"d","grid":true,"ticks":true,"tickSize":3,"tickColor":"#999","domain":true,"domainColor":"#e06060","labelPadding":1}},
"color":{"datum":"49.42","type":"nominal","scale":{"domain":["49.42","70","30"],"range":["#111111","#e87878","#4fd4e6"]},
"legend":{"orient":"top-left","direction":"horizontal","title":"RSI","titleOrient":"left","titleFontSize":6,"titleFontWeight":"normal","titleColor":"#999","titlePadding":2,"labelFontSize":5.5,"labelColor":"white","symbolType":"M-1,-6H35M-1,-4H35M-1,-2H35M-1,0H35M-1,2H35M-1,4H35M-1,6H35","symbolSize":1,"symbolStrokeWidth":1.3,"labelOffset":0,"padding":0,"offset":2,"columnPadding":1}}}}
]}
]
}
